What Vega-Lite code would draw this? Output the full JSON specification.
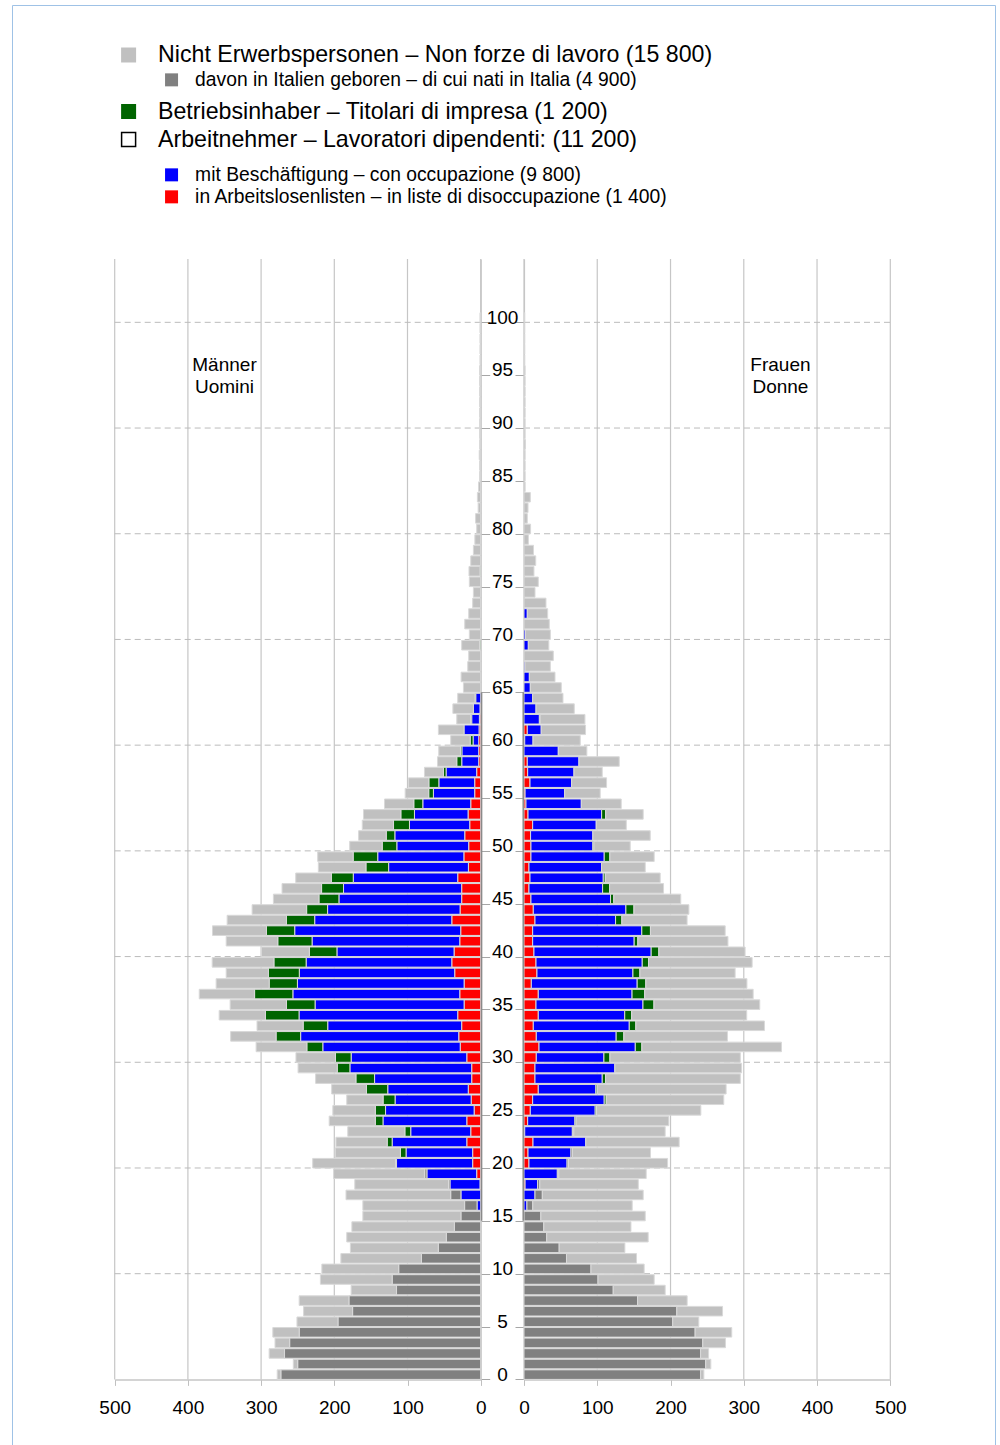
{
  "$schema": "https://vega.github.io/schema/vega-lite/v6.json",
  "width": 983,
  "height": 1440,
  "autosize": {"type": "none"},
  "padding": {"left": 12, "top": 5, "right": 5, "bottom": 0},
  "background": "#ffffff",
  "config": {"font": "Liberation Sans", "view": {"stroke": "#9fc2e6", "strokeWidth": 1}},
  "datasets": {
    "xgrid": [{"v": 0}, {"v": 100}, {"v": 200}, {"v": 300}, {"v": 400}, {"v": 500}],
    "ygrid": [{"g": 10}, {"g": 20}, {"g": 30}, {"g": 40}, {"g": 50}, {"g": 60}, {"g": 70}, {"g": 80}, {"g": 90}, {"g": 100}],
    "workage": [{"from": 15, "to": 65}],
    "pyramid": [
      {"sex":"M","age":0,"arb":0,"bes":0,"inh":0,"nit":273,"nso":5},
      {"sex":"M","age":1,"arb":0,"bes":0,"inh":0,"nit":250,"nso":6},
      {"sex":"M","age":2,"arb":0,"bes":0,"inh":0,"nit":268,"nso":21},
      {"sex":"M","age":3,"arb":0,"bes":0,"inh":0,"nit":261,"nso":20},
      {"sex":"M","age":4,"arb":0,"bes":0,"inh":0,"nit":248,"nso":36},
      {"sex":"M","age":5,"arb":0,"bes":0,"inh":0,"nit":195,"nso":56},
      {"sex":"M","age":6,"arb":0,"bes":0,"inh":0,"nit":175,"nso":67},
      {"sex":"M","age":7,"arb":0,"bes":0,"inh":0,"nit":180,"nso":68},
      {"sex":"M","age":8,"arb":0,"bes":0,"inh":0,"nit":115,"nso":62},
      {"sex":"M","age":9,"arb":0,"bes":0,"inh":0,"nit":121,"nso":98},
      {"sex":"M","age":10,"arb":0,"bes":0,"inh":0,"nit":112,"nso":105},
      {"sex":"M","age":11,"arb":0,"bes":0,"inh":0,"nit":81,"nso":110},
      {"sex":"M","age":12,"arb":0,"bes":0,"inh":0,"nit":58,"nso":120},
      {"sex":"M","age":13,"arb":0,"bes":0,"inh":0,"nit":47,"nso":136},
      {"sex":"M","age":14,"arb":0,"bes":0,"inh":0,"nit":36,"nso":140},
      {"sex":"M","age":15,"arb":0,"bes":0,"inh":0,"nit":27,"nso":134},
      {"sex":"M","age":16,"arb":0,"bes":5,"inh":0,"nit":17,"nso":139},
      {"sex":"M","age":17,"arb":0,"bes":27,"inh":0,"nit":14,"nso":143},
      {"sex":"M","age":18,"arb":1,"bes":41,"inh":0,"nit":2,"nso":128},
      {"sex":"M","age":19,"arb":5.5,"bes":68,"inh":0,"nit":3,"nso":124.5},
      {"sex":"M","age":20,"arb":11,"bes":104,"inh":1.5,"nit":0,"nso":113},
      {"sex":"M","age":21,"arb":11,"bes":91,"inh":7.7,"nit":0,"nso":89},
      {"sex":"M","age":22,"arb":19,"bes":102,"inh":6.8,"nit":0,"nso":70},
      {"sex":"M","age":23,"arb":13.6,"bes":82,"inh":8,"nit":0,"nso":78},
      {"sex":"M","age":24,"arb":19,"bes":114.5,"inh":10.5,"nit":0,"nso":63},
      {"sex":"M","age":25,"arb":9,"bes":121,"inh":14,"nit":0,"nso":58},
      {"sex":"M","age":26,"arb":13,"bes":104,"inh":16.4,"nit":0,"nso":49.6},
      {"sex":"M","age":27,"arb":17,"bes":110,"inh":29,"nit":0,"nso":47.6},
      {"sex":"M","age":28,"arb":12.3,"bes":132.7,"inh":25.5,"nit":0,"nso":55},
      {"sex":"M","age":29,"arb":12.3,"bes":166.4,"inh":17.3,"nit":0,"nso":53.5},
      {"sex":"M","age":30,"arb":19,"bes":158,"inh":21.4,"nit":0,"nso":54},
      {"sex":"M","age":31,"arb":28,"bes":187.7,"inh":21.8,"nit":0,"nso":69.3},
      {"sex":"M","age":32,"arb":30,"bes":216,"inh":33.6,"nit":0,"nso":62},
      {"sex":"M","age":33,"arb":26,"bes":183,"inh":33.6,"nit":0,"nso":63},
      {"sex":"M","age":34,"arb":31.4,"bes":216.8,"inh":45.9,"nit":0,"nso":63.2},
      {"sex":"M","age":35,"arb":22.7,"bes":203.6,"inh":39,"nit":0,"nso":77},
      {"sex":"M","age":36,"arb":28.6,"bes":228,"inh":52.3,"nit":0,"nso":75.6},
      {"sex":"M","age":37,"arb":22.7,"bes":227.7,"inh":38.6,"nit":0,"nso":72.4},
      {"sex":"M","age":38,"arb":35.5,"bes":212.3,"inh":42.3,"nit":0,"nso":57.6},
      {"sex":"M","age":39,"arb":39.5,"bes":199,"inh":44,"nit":0,"nso":84.3},
      {"sex":"M","age":40,"arb":36.4,"bes":160,"inh":37.7,"nit":0,"nso":65.4},
      {"sex":"M","age":41,"arb":28.6,"bes":201.8,"inh":46.8,"nit":0,"nso":70.5},
      {"sex":"M","age":42,"arb":27.3,"bes":226.8,"inh":38.6,"nit":0,"nso":73.7},
      {"sex":"M","age":43,"arb":39.5,"bes":187.3,"inh":38.6,"nit":0,"nso":81},
      {"sex":"M","age":44,"arb":28.2,"bes":181,"inh":28.6,"nit":0,"nso":74.5},
      {"sex":"M","age":45,"arb":26,"bes":167.7,"inh":27.3,"nit":0,"nso":62.2},
      {"sex":"M","age":46,"arb":26,"bes":161.4,"inh":30,"nit":0,"nso":54},
      {"sex":"M","age":47,"arb":31.4,"bes":142.7,"inh":30,"nit":0,"nso":48.6},
      {"sex":"M","age":48,"arb":16.8,"bes":109,"inh":31,"nit":0,"nso":65},
      {"sex":"M","age":49,"arb":23,"bes":117.7,"inh":33.6,"nit":0,"nso":48.4},
      {"sex":"M","age":50,"arb":16.4,"bes":98.2,"inh":20,"nit":0,"nso":44.4},
      {"sex":"M","age":51,"arb":21.8,"bes":95.5,"inh":11.8,"nit":0,"nso":37.7},
      {"sex":"M","age":52,"arb":15,"bes":82.3,"inh":21.8,"nit":0,"nso":42.7},
      {"sex":"M","age":53,"arb":17.3,"bes":73.2,"inh":18.6,"nit":0,"nso":51},
      {"sex":"M","age":54,"arb":13.6,"bes":65.5,"inh":12.3,"nit":0,"nso":40},
      {"sex":"M","age":55,"arb":8.2,"bes":56.4,"inh":6.4,"nit":0,"nso":32.2},
      {"sex":"M","age":56,"arb":8.2,"bes":49,"inh":13.6,"nit":0,"nso":27.8},
      {"sex":"M","age":57,"arb":5.5,"bes":41.8,"inh":3.6,"nit":0,"nso":25.9},
      {"sex":"M","age":58,"arb":2.7,"bes":23.2,"inh":6.8,"nit":0,"nso":26.3},
      {"sex":"M","age":59,"arb":2.7,"bes":23,"inh":2,"nit":0,"nso":29.6},
      {"sex":"M","age":60,"arb":2.7,"bes":7.7,"inh":4,"nit":0,"nso":26.6},
      {"sex":"M","age":61,"arb":2.3,"bes":20.5,"inh":0,"nit":0,"nso":35},
      {"sex":"M","age":62,"arb":1.8,"bes":10.5,"inh":1.4,"nit":0,"nso":19},
      {"sex":"M","age":63,"arb":1,"bes":9,"inh":0,"nit":0,"nso":28},
      {"sex":"M","age":64,"arb":0,"bes":6.8,"inh":1,"nit":0,"nso":23.6},
      {"sex":"M","age":65,"arb":0,"bes":0,"inh":0,"nit":0,"nso":23.6},
      {"sex":"M","age":66,"arb":0,"bes":0,"inh":0,"nit":0,"nso":26.8},
      {"sex":"M","age":67,"arb":0,"bes":0,"inh":0,"nit":0,"nso":17.7},
      {"sex":"M","age":68,"arb":0,"bes":0,"inh":0,"nit":0,"nso":16.4},
      {"sex":"M","age":69,"arb":0,"bes":0,"inh":1.5,"nit":0,"nso":24.5},
      {"sex":"M","age":70,"arb":0,"bes":0,"inh":0,"nit":0,"nso":15.5},
      {"sex":"M","age":71,"arb":0,"bes":0,"inh":0,"nit":0,"nso":21.8},
      {"sex":"M","age":72,"arb":0,"bes":0,"inh":0,"nit":0,"nso":16.4},
      {"sex":"M","age":73,"arb":0,"bes":0,"inh":0,"nit":0,"nso":11},
      {"sex":"M","age":74,"arb":0,"bes":0,"inh":0,"nit":0,"nso":10},
      {"sex":"M","age":75,"arb":0,"bes":0,"inh":0,"nit":0,"nso":15.5},
      {"sex":"M","age":76,"arb":0,"bes":0,"inh":1,"nit":0,"nso":15},
      {"sex":"M","age":77,"arb":0,"bes":0,"inh":0,"nit":0,"nso":13.6},
      {"sex":"M","age":78,"arb":0,"bes":0,"inh":0,"nit":0,"nso":10},
      {"sex":"M","age":79,"arb":0,"bes":0,"inh":0,"nit":0,"nso":8},
      {"sex":"M","age":80,"arb":0,"bes":0,"inh":0,"nit":0,"nso":5.5},
      {"sex":"M","age":81,"arb":0,"bes":0,"inh":0,"nit":0,"nso":7},
      {"sex":"M","age":82,"arb":0,"bes":0,"inh":0,"nit":0,"nso":3.5},
      {"sex":"M","age":83,"arb":0,"bes":0,"inh":0,"nit":0,"nso":4.5},
      {"sex":"M","age":84,"arb":0,"bes":0,"inh":0,"nit":0,"nso":3},
      {"sex":"M","age":85,"arb":0,"bes":0,"inh":0,"nit":0,"nso":1.5},
      {"sex":"M","age":86,"arb":0,"bes":0,"inh":0,"nit":0,"nso":1.5},
      {"sex":"M","age":87,"arb":0,"bes":0,"inh":0,"nit":0,"nso":2},
      {"sex":"M","age":88,"arb":0,"bes":0,"inh":0,"nit":0,"nso":1.5},
      {"sex":"M","age":89,"arb":0,"bes":0,"inh":0,"nit":0,"nso":1.5},
      {"sex":"M","age":90,"arb":0,"bes":0,"inh":0,"nit":0,"nso":1.5},
      {"sex":"M","age":91,"arb":0,"bes":0,"inh":0,"nit":0,"nso":1.5},
      {"sex":"M","age":92,"arb":0,"bes":0,"inh":0,"nit":0,"nso":1.5},
      {"sex":"M","age":93,"arb":0,"bes":0,"inh":0,"nit":0,"nso":1.5},
      {"sex":"M","age":94,"arb":0,"bes":0,"inh":0,"nit":0,"nso":1.5},
      {"sex":"M","age":95,"arb":0,"bes":0,"inh":0,"nit":0,"nso":1.5},
      {"sex":"M","age":96,"arb":0,"bes":0,"inh":0,"nit":0,"nso":1},
      {"sex":"M","age":97,"arb":0,"bes":0,"inh":0,"nit":0,"nso":1},
      {"sex":"M","age":98,"arb":0,"bes":0,"inh":0,"nit":0,"nso":1},
      {"sex":"M","age":99,"arb":0,"bes":0,"inh":0,"nit":0,"nso":1},
      {"sex":"M","age":100,"arb":0,"bes":0,"inh":0,"nit":0,"nso":1},
      {"sex":"F","age":0,"arb":0,"bes":0,"inh":0,"nit":241,"nso":4.5},
      {"sex":"F","age":1,"arb":0,"bes":0,"inh":0,"nit":248,"nso":7},
      {"sex":"F","age":2,"arb":0,"bes":0,"inh":0,"nit":241,"nso":11},
      {"sex":"F","age":3,"arb":0,"bes":0,"inh":0,"nit":244,"nso":31},
      {"sex":"F","age":4,"arb":0,"bes":0,"inh":0,"nit":233.6,"nso":50},
      {"sex":"F","age":5,"arb":0,"bes":0,"inh":0,"nit":203,"nso":35.6},
      {"sex":"F","age":6,"arb":0,"bes":0,"inh":0,"nit":208.6,"nso":62.4},
      {"sex":"F","age":7,"arb":0,"bes":0,"inh":0,"nit":155,"nso":67.7},
      {"sex":"F","age":8,"arb":0,"bes":0,"inh":0,"nit":121.8,"nso":70.9},
      {"sex":"F","age":9,"arb":0,"bes":0,"inh":0,"nit":101,"nso":76.7},
      {"sex":"F","age":10,"arb":0,"bes":0,"inh":0,"nit":91.4,"nso":72.6},
      {"sex":"F","age":11,"arb":0,"bes":0,"inh":0,"nit":58,"nso":95.6},
      {"sex":"F","age":12,"arb":0,"bes":0,"inh":0,"nit":48,"nso":89.7},
      {"sex":"F","age":13,"arb":0,"bes":0,"inh":0,"nit":31,"nso":138.5},
      {"sex":"F","age":14,"arb":0,"bes":0,"inh":0,"nit":27,"nso":119},
      {"sex":"F","age":15,"arb":0,"bes":0,"inh":0,"nit":23,"nso":142.5},
      {"sex":"F","age":16,"arb":0,"bes":4,"inh":0,"nit":8,"nso":135.7},
      {"sex":"F","age":17,"arb":0,"bes":15,"inh":0,"nit":10,"nso":137.7},
      {"sex":"F","age":18,"arb":1.5,"bes":17,"inh":0,"nit":3,"nso":134.5},
      {"sex":"F","age":19,"arb":0,"bes":45.5,"inh":0,"nit":2,"nso":119.3},
      {"sex":"F","age":20,"arb":6.8,"bes":52,"inh":0,"nit":2,"nso":135.2},
      {"sex":"F","age":21,"arb":5.5,"bes":58.6,"inh":0,"nit":2,"nso":106.6},
      {"sex":"F","age":22,"arb":12.3,"bes":72,"inh":0,"nit":0,"nso":127.5},
      {"sex":"F","age":23,"arb":1,"bes":65,"inh":0,"nit":2,"nso":124.7},
      {"sex":"F","age":24,"arb":5,"bes":64.5,"inh":1.5,"nit":0,"nso":126.7},
      {"sex":"F","age":25,"arb":8.6,"bes":88.6,"inh":1.8,"nit":0,"nso":142.4},
      {"sex":"F","age":26,"arb":11.8,"bes":97.7,"inh":2.7,"nit":0,"nso":160.5},
      {"sex":"F","age":27,"arb":19.5,"bes":78.6,"inh":1.8,"nit":0,"nso":176},
      {"sex":"F","age":28,"arb":15,"bes":91.8,"inh":4.5,"nit":0,"nso":184},
      {"sex":"F","age":29,"arb":15,"bes":109,"inh":0,"nit":0,"nso":173},
      {"sex":"F","age":30,"arb":16.8,"bes":92.3,"inh":8.2,"nit":0,"nso":178},
      {"sex":"F","age":31,"arb":20.5,"bes":131.4,"inh":9,"nit":0,"nso":190.5},
      {"sex":"F","age":32,"arb":16.8,"bes":109,"inh":10.5,"nit":0,"nso":141.4},
      {"sex":"F","age":33,"arb":12.7,"bes":131,"inh":9,"nit":0,"nso":175.5},
      {"sex":"F","age":34,"arb":19.5,"bes":118,"inh":9.5,"nit":0,"nso":157},
      {"sex":"F","age":35,"arb":16.4,"bes":146,"inh":15,"nit":0,"nso":144.4},
      {"sex":"F","age":36,"arb":19.5,"bes":128,"inh":17.3,"nit":0,"nso":148},
      {"sex":"F","age":37,"arb":10,"bes":144.5,"inh":11.8,"nit":0,"nso":138},
      {"sex":"F","age":38,"arb":17.7,"bes":131,"inh":9.5,"nit":0,"nso":130},
      {"sex":"F","age":39,"arb":16.4,"bes":145,"inh":8.6,"nit":0,"nso":141.4},
      {"sex":"F","age":40,"arb":13.6,"bes":160,"inh":10.5,"nit":0,"nso":117.7},
      {"sex":"F","age":41,"arb":11.8,"bes":138.6,"inh":5,"nit":0,"nso":123},
      {"sex":"F","age":42,"arb":11.8,"bes":149,"inh":11.8,"nit":0,"nso":102},
      {"sex":"F","age":43,"arb":15,"bes":110,"inh":8.6,"nit":0,"nso":89},
      {"sex":"F","age":44,"arb":12.7,"bes":126.4,"inh":11,"nit":0,"nso":75},
      {"sex":"F","age":45,"arb":9.5,"bes":108.6,"inh":4.5,"nit":0,"nso":91.4},
      {"sex":"F","age":46,"arb":6.8,"bes":100.5,"inh":9.5,"nit":0,"nso":73.7},
      {"sex":"F","age":47,"arb":8.2,"bes":100,"inh":2.7,"nit":0,"nso":75},
      {"sex":"F","age":48,"arb":6.8,"bes":99,"inh":0,"nit":0,"nso":59.7},
      {"sex":"F","age":49,"arb":9.5,"bes":100,"inh":7.7,"nit":0,"nso":60.5},
      {"sex":"F","age":50,"arb":9.5,"bes":84.5,"inh":1.4,"nit":0,"nso":49.6},
      {"sex":"F","age":51,"arb":9,"bes":85,"inh":0,"nit":0,"nso":78.3},
      {"sex":"F","age":52,"arb":11.8,"bes":86.8,"inh":0,"nit":0,"nso":41},
      {"sex":"F","age":53,"arb":5.5,"bes":100.5,"inh":5.5,"nit":0,"nso":51.2},
      {"sex":"F","age":54,"arb":2.7,"bes":75.5,"inh":0,"nit":0,"nso":54.5},
      {"sex":"F","age":55,"arb":1.5,"bes":54,"inh":0,"nit":0,"nso":48.5},
      {"sex":"F","age":56,"arb":8.2,"bes":56.8,"inh":0,"nit":0,"nso":47.7},
      {"sex":"F","age":57,"arb":5,"bes":63.2,"inh":0,"nit":0,"nso":38.6},
      {"sex":"F","age":58,"arb":4.5,"bes":70.5,"inh":0,"nit":0,"nso":55},
      {"sex":"F","age":59,"arb":0,"bes":46.8,"inh":0,"nit":0,"nso":39},
      {"sex":"F","age":60,"arb":1,"bes":11.3,"inh":0,"nit":0,"nso":64.5},
      {"sex":"F","age":61,"arb":4.5,"bes":19,"inh":0,"nit":0,"nso":60.5},
      {"sex":"F","age":62,"arb":0,"bes":21,"inh":1,"nit":0,"nso":61.2},
      {"sex":"F","age":63,"arb":0,"bes":16.4,"inh":0,"nit":0,"nso":52.2},
      {"sex":"F","age":64,"arb":0,"bes":11.8,"inh":0,"nit":0,"nso":41.4},
      {"sex":"F","age":65,"arb":0,"bes":8.6,"inh":0,"nit":0,"nso":42.3},
      {"sex":"F","age":66,"arb":0,"bes":7.3,"inh":0,"nit":0,"nso":35},
      {"sex":"F","age":67,"arb":0,"bes":1.4,"inh":0,"nit":0,"nso":34.6},
      {"sex":"F","age":68,"arb":0,"bes":0,"inh":0,"nit":0,"nso":40},
      {"sex":"F","age":69,"arb":0,"bes":5.9,"inh":0,"nit":0,"nso":28},
      {"sex":"F","age":70,"arb":0,"bes":2,"inh":0,"nit":0,"nso":34},
      {"sex":"F","age":71,"arb":0,"bes":0,"inh":0,"nit":0,"nso":34.5},
      {"sex":"F","age":72,"arb":0,"bes":4.5,"inh":0,"nit":0,"nso":27.8},
      {"sex":"F","age":73,"arb":0,"bes":0,"inh":0,"nit":0,"nso":30},
      {"sex":"F","age":74,"arb":0,"bes":0,"inh":0,"nit":0,"nso":15},
      {"sex":"F","age":75,"arb":0,"bes":0,"inh":0,"nit":0,"nso":19.5},
      {"sex":"F","age":76,"arb":0,"bes":0,"inh":0,"nit":0,"nso":13.6},
      {"sex":"F","age":77,"arb":0,"bes":0,"inh":0,"nit":0,"nso":16},
      {"sex":"F","age":78,"arb":0,"bes":0,"inh":0,"nit":0,"nso":13},
      {"sex":"F","age":79,"arb":0,"bes":0,"inh":0,"nit":0,"nso":6},
      {"sex":"F","age":80,"arb":0,"bes":0,"inh":0,"nit":0,"nso":9},
      {"sex":"F","age":81,"arb":0,"bes":0,"inh":0,"nit":0,"nso":4.5},
      {"sex":"F","age":82,"arb":0,"bes":0,"inh":0,"nit":0,"nso":5.5},
      {"sex":"F","age":83,"arb":0,"bes":0,"inh":0,"nit":0,"nso":8.6},
      {"sex":"F","age":84,"arb":0,"bes":0,"inh":0,"nit":0,"nso":1.5},
      {"sex":"F","age":85,"arb":0,"bes":0,"inh":0,"nit":0,"nso":1.5},
      {"sex":"F","age":86,"arb":0,"bes":0,"inh":0,"nit":0,"nso":1.5},
      {"sex":"F","age":87,"arb":0,"bes":0,"inh":0,"nit":0,"nso":1.5},
      {"sex":"F","age":88,"arb":0,"bes":0,"inh":0,"nit":0,"nso":2},
      {"sex":"F","age":89,"arb":0,"bes":0,"inh":0,"nit":0,"nso":1.5},
      {"sex":"F","age":90,"arb":0,"bes":0,"inh":0,"nit":0,"nso":1.5},
      {"sex":"F","age":91,"arb":0,"bes":0,"inh":0,"nit":0,"nso":1.5},
      {"sex":"F","age":92,"arb":0,"bes":0,"inh":0,"nit":0,"nso":1.5},
      {"sex":"F","age":93,"arb":0,"bes":0,"inh":0,"nit":0,"nso":1.5},
      {"sex":"F","age":94,"arb":0,"bes":0,"inh":0,"nit":0,"nso":1.5},
      {"sex":"F","age":95,"arb":0,"bes":0,"inh":0,"nit":0,"nso":1.5},
      {"sex":"F","age":96,"arb":0,"bes":0,"inh":0,"nit":0,"nso":1},
      {"sex":"F","age":97,"arb":0,"bes":0,"inh":0,"nit":0,"nso":1},
      {"sex":"F","age":98,"arb":0,"bes":0,"inh":0,"nit":0,"nso":1},
      {"sex":"F","age":99,"arb":0,"bes":0,"inh":0,"nit":0,"nso":1},
      {"sex":"F","age":100,"arb":0,"bes":0,"inh":0,"nit":0,"nso":1}
    ]
  },
  "layer": [
    {
      "data": {"name": "xgrid"},
      "mark": {"type": "rule", "color": "#c6c6c6", "strokeWidth": 1.2},
      "encoding": {
        "x": {"field": "v", "type": "quantitative", "scale": {"domain": [0, 500], "range": [468.7, 102.7], "nice": false, "zero": false}, "axis": null},
        "y": {"datum": 0, "type": "quantitative", "scale": {"domain": [0, 106], "range": [1374.4, 253.9], "nice": false, "zero": false}, "axis": null},
        "y2": {"datum": 106}
      }
    },
    {
      "data": {"name": "xgrid"},
      "mark": {"type": "rule", "color": "#c6c6c6", "strokeWidth": 1.2},
      "encoding": {
        "x": {"field": "v", "type": "quantitative", "scale": {"domain": [0, 500], "range": [512, 878.3], "nice": false, "zero": false}, "axis": null},
        "y": {"datum": 0, "type": "quantitative", "axis": null},
        "y2": {"datum": 106}
      }
    },
    {
      "data": {"name": "ygrid"},
      "mark": {"type": "rule", "color": "#bbbbbb", "strokeWidth": 1, "strokeDash": [6, 4]},
      "encoding": {
        "y": {"field": "g", "type": "quantitative", "axis": null},
        "x": {"datum": 500, "type": "quantitative", "scale": {"domain": [0, 500], "range": [468.7, 102.7], "nice": false, "zero": false}, "axis": null},
        "x2": {"datum": 0}
      }
    },
    {
      "data": {"name": "ygrid"},
      "mark": {"type": "rule", "color": "#bbbbbb", "strokeWidth": 1, "strokeDash": [6, 4]},
      "encoding": {
        "y": {"field": "g", "type": "quantitative", "axis": null},
        "x": {"datum": 0, "type": "quantitative", "scale": {"domain": [0, 500], "range": [512, 878.3], "nice": false, "zero": false}, "axis": null},
        "x2": {"datum": 500}
      }
    },
    {
      "data": {"name": "pyramid"},
      "transform": [
        {"filter": "datum.sex === 'M'"},
        {"fold": ["arb", "bes", "inh", "nit", "nso"], "as": ["cat", "value"]},
        {"filter": "datum.value > 0"}
      ],
      "mark": {"type": "bar", "stroke": "#d9d9d9", "strokeWidth": 1},
      "encoding": {
        "y": {
          "field": "age", "type": "quantitative", "bin": {"step": 1, "extent": [0, 106]},
          "scale": {"domain": [0, 106], "range": [1374.4, 253.9], "nice": false, "zero": false},
          "axis": {
            "orient": "right", "offset": -514.3, "title": null,
            "values": [0,5,10,15,20,25,30,35,40,45,50,55,60,65,70,75,80,85,90,95,100],
            "labels": false, "ticks": true, "tickSize": 9, "tickColor": "#a6a6a6",
            "domain": true, "domainColor": "#c6c6c6", "domainWidth": 1.2, "grid": false
          }
        },
        "x": {
          "aggregate": "sum", "field": "value", "type": "quantitative", "stack": "zero",
          "scale": {"domain": [0, 500], "range": [468.7, 102.7], "nice": false, "zero": false},
          "axis": {
            "orient": "bottom", "offset": -65.6, "title": null, "values": [0,100,200,300,400,500], "format": "d",
            "domain": true, "domainColor": "#c6c6c6", "domainWidth": 1.5,
            "ticks": true, "tickSize": 6, "tickColor": "#c0c0c0",
            "labelFontSize": 19, "labelColor": "#000000", "labelFlush": false, "labelBaseline": "middle", "labelPadding": 22,
            "grid": false
          }
        },
        "fill": {"field": "cat", "type": "nominal", "scale": {"domain": ["arb", "bes", "inh", "nit", "nso"], "range": ["#ff0000", "#0000ff", "#006400", "#808080", "#c0c0c0"]}, "legend": null},
        "order": {"field": "cat", "type": "nominal"}
      }
    },
    {
      "data": {"name": "workage"},
      "mark": {"type": "rule", "color": "#8a8a8a", "strokeWidth": 1.5},
      "encoding": {
        "x": {"datum": 0, "type": "quantitative", "scale": {"domain": [0, 500], "range": [469.6, 103.6], "nice": false, "zero": false}, "axis": null},
        "y": {"field": "from", "type": "quantitative", "axis": null},
        "y2": {"field": "to"}
      }
    },
    {
      "data": {"values": [{"t": "Männer"}]},
      "mark": {"type": "text", "text": ["Männer", "Uomini"], "fontSize": 19, "lineHeight": 22, "align": "center", "baseline": "middle", "color": "#000000"},
      "encoding": {
        "x": {"datum": 350, "type": "quantitative", "scale": {"domain": [0, 500], "range": [468.7, 102.7], "nice": false, "zero": false}, "axis": null},
        "y": {"datum": 95.95, "type": "quantitative", "axis": null}
      }
    },
    {
      "data": {"name": "pyramid"},
      "transform": [
        {"filter": "datum.sex === 'F'"},
        {"fold": ["arb", "bes", "inh", "nit", "nso"], "as": ["cat", "value"]},
        {"filter": "datum.value > 0"}
      ],
      "mark": {"type": "bar", "stroke": "#d9d9d9", "strokeWidth": 1},
      "encoding": {
        "y": {
          "field": "age", "type": "quantitative", "bin": {"step": 1, "extent": [0, 106]},
          "scale": {"domain": [0, 106], "range": [1374.4, 253.9], "nice": false, "zero": false},
          "axis": {
            "orient": "left", "offset": -512, "title": null,
            "values": [0,5,10,15,20,25,30,35,40,45,50,55,60,65,70,75,80,85,90,95,100], "format": "d",
            "labels": true, "labelAlign": "center", "labelBaseline": "middle", "labelPadding": 13, "labelOffset": -5.3,
            "labelFontSize": 19, "labelColor": "#000000", "labelFlush": false, "labelOverlap": false,
            "ticks": true, "tickSize": 9, "tickColor": "#a6a6a6",
            "domain": true, "domainColor": "#c6c6c6", "domainWidth": 1.2, "grid": false
          }
        },
        "x": {
          "aggregate": "sum", "field": "value", "type": "quantitative", "stack": "zero",
          "scale": {"domain": [0, 500], "range": [512, 878.3], "nice": false, "zero": false},
          "axis": {
            "orient": "bottom", "offset": -65.6, "title": null, "values": [0,100,200,300,400,500], "format": "d",
            "domain": true, "domainColor": "#c6c6c6", "domainWidth": 1.5,
            "ticks": true, "tickSize": 6, "tickColor": "#c0c0c0",
            "labelFontSize": 19, "labelColor": "#000000", "labelFlush": false, "labelBaseline": "middle", "labelPadding": 22,
            "grid": false
          }
        },
        "fill": {"field": "cat", "type": "nominal", "scale": {"domain": ["arb", "bes", "inh", "nit", "nso"], "range": ["#ff0000", "#0000ff", "#006400", "#808080", "#c0c0c0"]}, "legend": null},
        "order": {"field": "cat", "type": "nominal"}
      }
    },
    {
      "data": {"name": "workage"},
      "mark": {"type": "rule", "color": "#8a8a8a", "strokeWidth": 1.5},
      "encoding": {
        "x": {"datum": 0, "type": "quantitative", "scale": {"domain": [0, 500], "range": [511.2, 877.5], "nice": false, "zero": false}, "axis": null},
        "y": {"field": "from", "type": "quantitative", "axis": null},
        "y2": {"field": "to"}
      }
    },
    {
      "data": {"values": [{"t": "Frauen"}]},
      "mark": {"type": "text", "text": ["Frauen", "Donne"], "fontSize": 19, "lineHeight": 22, "align": "center", "baseline": "middle", "color": "#000000"},
      "encoding": {
        "x": {"datum": 350, "type": "quantitative", "scale": {"domain": [0, 500], "range": [512, 878.3], "nice": false, "zero": false}, "axis": null},
        "y": {"datum": 95.95, "type": "quantitative", "axis": null}
      }
    },
    {
      "data": {"values": [{"lab": "Nicht Erwerbspersonen – Non forze di lavoro (15 800)"}]},
      "transform": [{"filter": "false"}],
      "mark": {"type": "square", "opacity": 1},
      "encoding": {"fill": {"field": "lab", "type": "nominal",
        "scale": {"domain": ["Nicht Erwerbspersonen – Non forze di lavoro (15 800)"], "range": ["#c0c0c0"]},
        "legend": {"orient": "none", "legendX": 105, "legendY": 38.4, "title": null, "padding": 0, "symbolType": "square", "symbolSize": 225, "symbolStrokeWidth": 0, "symbolOpacity": 1, "labelFontSize": 23.2, "labelColor": "#000000", "labelLimit": 2000, "labelOffset": 17.8}}}
    },
    {
      "data": {"values": [{"lab": "davon in Italien geboren – di cui nati in Italia (4 900)"}]},
      "transform": [{"filter": "false"}],
      "mark": {"type": "square", "opacity": 1},
      "encoding": {"fill": {"field": "lab", "type": "nominal",
        "scale": {"domain": ["davon in Italien geboren – di cui nati in Italia (4 900)"], "range": ["#808080"]},
        "legend": {"orient": "none", "legendX": 149.9, "legendY": 65.2, "title": null, "padding": 0, "symbolType": "square", "symbolSize": 169, "symbolStrokeWidth": 0, "symbolOpacity": 1, "labelFontSize": 19.3, "labelColor": "#000000", "labelLimit": 2000, "labelOffset": 13.9}}}
    },
    {
      "data": {"values": [{"lab": "Betriebsinhaber – Titolari di impresa (1 200)"}]},
      "transform": [{"filter": "false"}],
      "mark": {"type": "square", "opacity": 1},
      "encoding": {"fill": {"field": "lab", "type": "nominal",
        "scale": {"domain": ["Betriebsinhaber – Titolari di impresa (1 200)"], "range": ["#006400"]},
        "legend": {"orient": "none", "legendX": 105, "legendY": 94.9, "title": null, "padding": 0, "symbolType": "square", "symbolSize": 225, "symbolStrokeWidth": 0, "symbolOpacity": 1, "labelFontSize": 23.2, "labelColor": "#000000", "labelLimit": 2000, "labelOffset": 17.8}}}
    },
    {
      "data": {"values": [{"lab": "Arbeitnehmer – Lavoratori dipendenti: (11 200)"}]},
      "transform": [{"filter": "false"}],
      "mark": {"type": "square", "opacity": 1, "stroke": "#000000", "strokeWidth": 1.5},
      "encoding": {"fill": {"field": "lab", "type": "nominal",
        "scale": {"domain": ["Arbeitnehmer – Lavoratori dipendenti: (11 200)"], "range": ["#ffffff"]},
        "legend": {"orient": "none", "legendX": 105, "legendY": 122.9, "title": null, "padding": 0, "symbolType": "square", "symbolSize": 196, "symbolStrokeColor": "#000000", "symbolStrokeWidth": 1.5, "symbolOpacity": 1, "labelFontSize": 23.2, "labelColor": "#000000", "labelLimit": 2000, "labelOffset": 17.8}}}
    },
    {
      "data": {"values": [{"lab": "mit Beschäftigung – con occupazione (9 800)"}]},
      "transform": [{"filter": "false"}],
      "mark": {"type": "square", "opacity": 1},
      "encoding": {"fill": {"field": "lab", "type": "nominal",
        "scale": {"domain": ["mit Beschäftigung – con occupazione (9 800)"], "range": ["#0000ff"]},
        "legend": {"orient": "none", "legendX": 149.9, "legendY": 160.2, "title": null, "padding": 0, "symbolType": "square", "symbolSize": 169, "symbolStrokeWidth": 0, "symbolOpacity": 1, "labelFontSize": 19.3, "labelColor": "#000000", "labelLimit": 2000, "labelOffset": 13.9}}}
    },
    {
      "data": {"values": [{"lab": "in Arbeitslosenlisten – in liste di disoccupazione (1 400)"}]},
      "transform": [{"filter": "false"}],
      "mark": {"type": "square", "opacity": 1},
      "encoding": {"fill": {"field": "lab", "type": "nominal",
        "scale": {"domain": ["in Arbeitslosenlisten – in liste di disoccupazione (1 400)"], "range": ["#ff0000"]},
        "legend": {"orient": "none", "legendX": 149.9, "legendY": 182.2, "title": null, "padding": 0, "symbolType": "square", "symbolSize": 169, "symbolStrokeWidth": 0, "symbolOpacity": 1, "labelFontSize": 19.3, "labelColor": "#000000", "labelLimit": 2000, "labelOffset": 13.9}}}
    }
  ],
  "resolve": {
    "scale": {"x": "independent", "fill": "independent"},
    "axis": {"x": "independent", "y": "independent"}
  }
}
